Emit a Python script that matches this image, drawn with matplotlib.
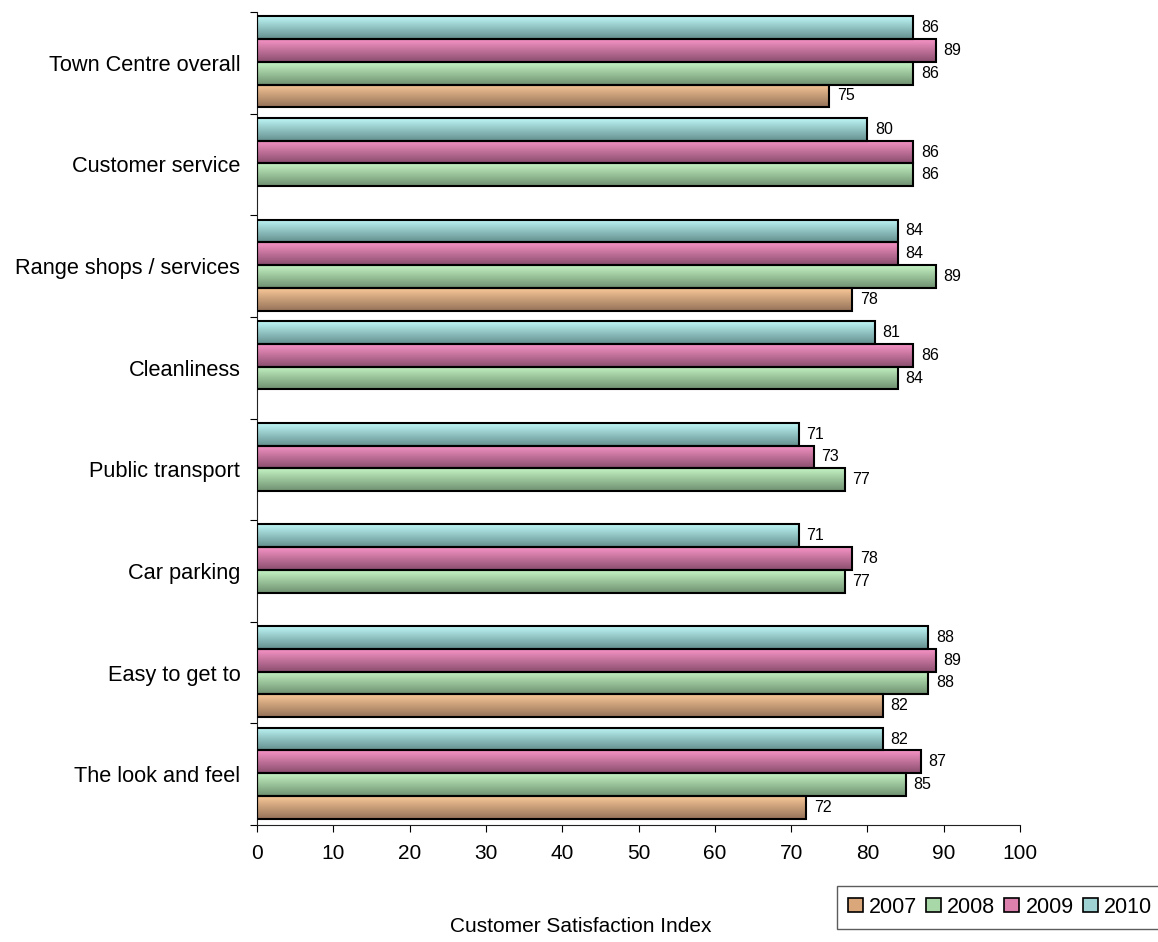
import numpy as np
import matplotlib.pyplot as plt
from matplotlib.colors import LinearSegmentedColormap
from matplotlib.patches import Patch

plt.rcParams['font.family'] = ['Liberation Sans', 'DejaVu Sans']

categories = ['Town Centre overall', 'Customer service', 'Range shops / services',
              'Cleanliness', 'Public transport', 'Car parking', 'Easy to get to',
              'The look and feel']
years = ['2007', '2008', '2009', '2010']
v2007 = [75, None, 78, None, None, None, 82, 72]
v2008 = [86, 86, 89, 84, 77, 77, 88, 85]
v2009 = [89, 86, 84, 86, 73, 78, 89, 87]
v2010 = [86, 80, 84, 81, 71, 71, 88, 82]
series = [v2007, v2008, v2009, v2010]

# top colour, bottom colour of each gradient
grads = [('#f8c898', '#957258'),
         ('#c4f4c4', '#6f9070'),
         ('#f694c6', '#8a4e6e'),
         ('#bef6f6', '#64908f')]
mids = ['#d9a77a', '#a8d8a8', '#dc80ae', '#9fd2d2']

W, H = 1158, 942
fig = plt.figure(figsize=(W / 100, H / 100), dpi=100)
ax = fig.add_axes([257 / W, 1 - 825 / H, (1020 - 257) / W, (825 - 12) / H])

h = 0.224
for j, vals in enumerate(series):
    cmap = LinearSegmentedColormap.from_list('g%d' % j, [grads[j][0], grads[j][1]])
    grad = np.linspace(0, 1, 64).reshape(-1, 1)
    for i, v in enumerate(vals):
        if v is None:
            continue
        y = i + 0.49 - (j - 1.5) * h
        bar = ax.barh(y, v, height=h, color=mids[j], edgecolor='none', zorder=2)[0]
        im = ax.imshow(grad, cmap=cmap, aspect='auto', zorder=2.5,
                       extent=(0, v, y + h / 2, y - h / 2), interpolation='bilinear')
        im.set_clip_path(bar)
        ax.barh(y, v, height=h, fill=False, edgecolor='black', linewidth=1.5, zorder=3)
        ax.text(v + 1.0, y, str(v), va='center', ha='left', fontsize=11.5, zorder=4)

ax.set_xlim(0, 100)
ax.set_ylim(8, 0)
ax.set_xticks(np.arange(0, 101, 10))
ax.set_yticks(np.arange(0, 9))
ax.set_yticklabels([])
ax.set_yticks(np.arange(8) + 0.5, minor=True)
ax.set_yticklabels(categories, minor=True)
ax.tick_params(axis='y', which='minor', length=0, pad=12, labelsize=15.7)
ax.tick_params(axis='y', which='major', length=5, direction='out')
ax.tick_params(axis='x', length=5, direction='out', labelsize=15, pad=9)
ax.spines['top'].set_visible(False)
ax.spines['right'].set_visible(False)
for s in ['left', 'bottom']:
    ax.spines[s].set_color('#222222')

handles = [Patch(facecolor=mids[j], edgecolor='black', linewidth=1.2, label=years[j])
           for j in range(4)]
leg = fig.legend(handles=handles, ncol=4, loc='upper left',
                 bbox_to_anchor=(837 / W, 1 - 886 / H), fontsize=15.5,
                 frameon=True, fancybox=False, edgecolor='#333333',
                 handlelength=0.7, handleheight=0.65, handletextpad=0.28,
                 columnspacing=0.42, borderpad=0.5, borderaxespad=0)
leg.get_frame().set_linewidth(1.0)

fig.text(581 / W, 1 - 926 / H, 'Customer Satisfaction Index', ha='center',
         va='center', fontsize=15)

fig.savefig('out.png', dpi=100)
